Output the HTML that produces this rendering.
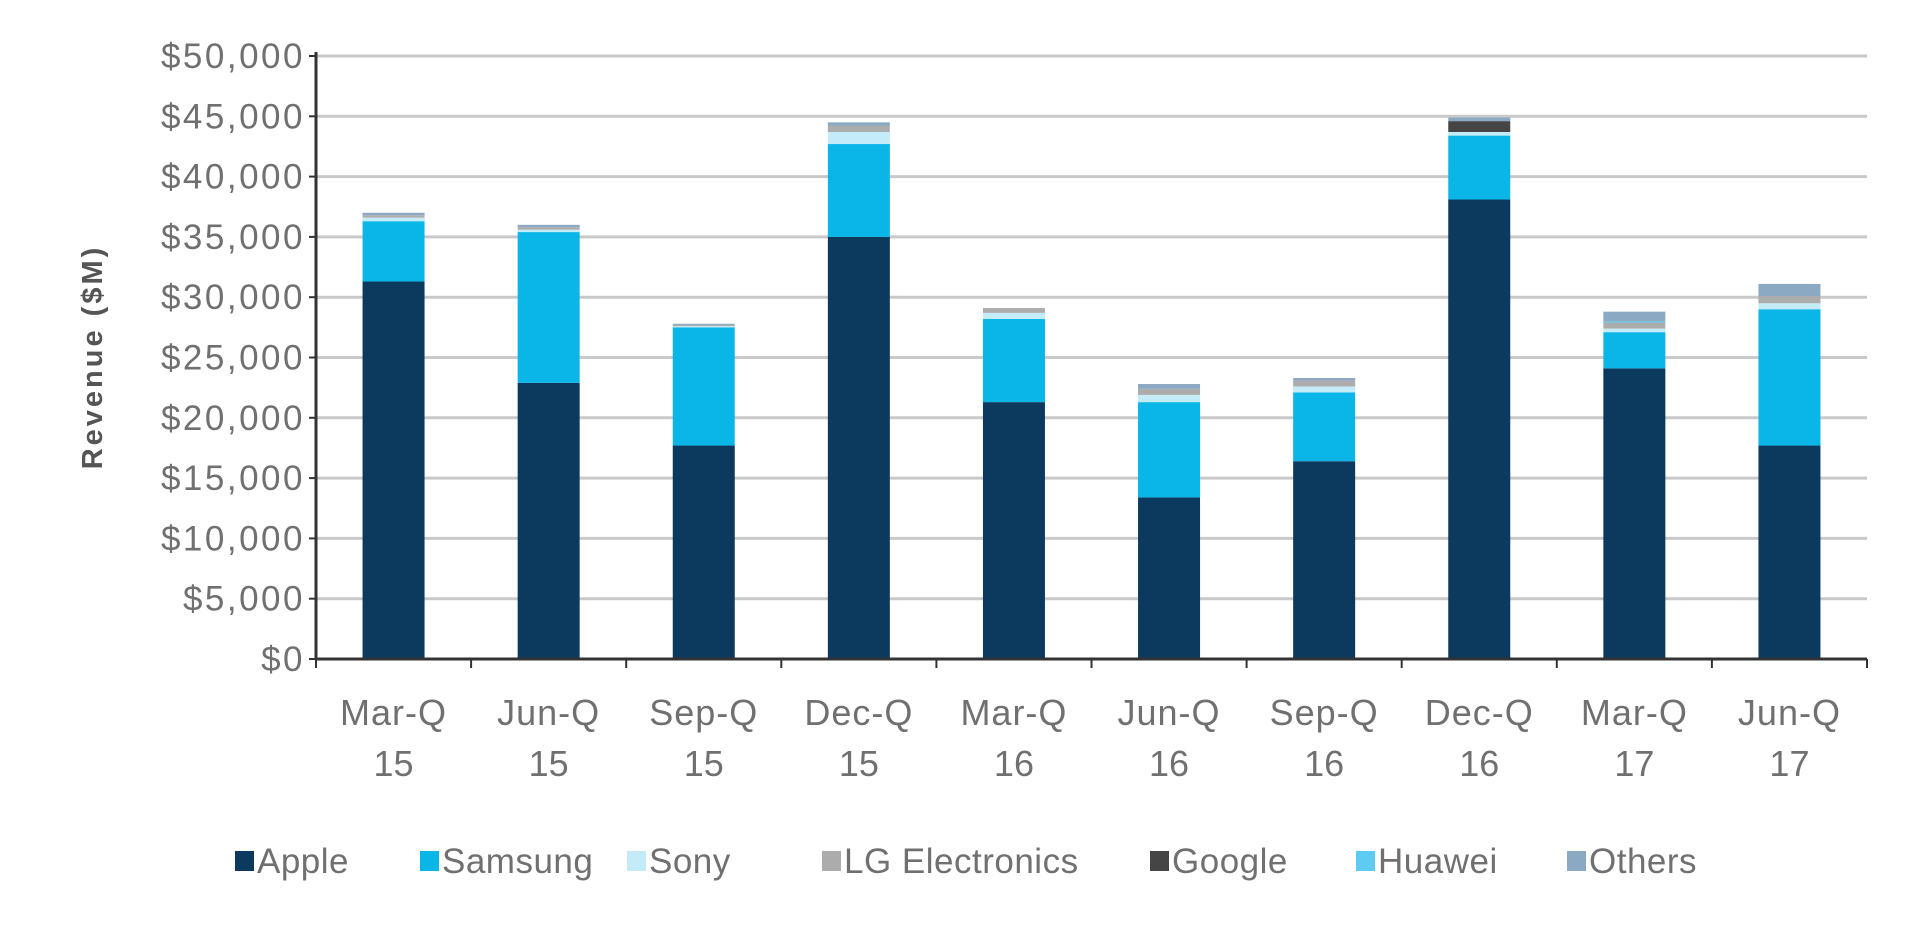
<!DOCTYPE html>
<html><head><meta charset="utf-8">
<style>
html,body{margin:0;padding:0;background:#fff;}
svg text{font-family:"Liberation Sans",sans-serif;}
</style></head>
<body>
<svg id="chart" width="1920" height="934" viewBox="0 0 1920 934" xmlns="http://www.w3.org/2000/svg">
<g id="grid"></g>
<g id="bars"></g>
<g id="axes"></g>
<g id="legend"></g>
<text x="0" y="0" transform="translate(102,357) rotate(-90)" text-anchor="middle" font-size="29" font-weight="bold" fill="#555" letter-spacing="3">Revenue ($M)</text>
</svg>
<script>
const categoriesLine1 = ["Mar-Q","Jun-Q","Sep-Q","Dec-Q","Mar-Q","Jun-Q","Sep-Q","Dec-Q","Mar-Q","Jun-Q"];
const categoriesLine2 = ["15","15","15","15","16","16","16","16","17","17"];
const seriesNames = ["Apple","Samsung","Sony","LG Electronics","Google","Huawei","Others"];
const apple   = [31300,22900,17700,35000,21300,13400,16400,38100,24100,17700];
const samsung = [5000,12500,9800,7700,6900,7900,5700,5300,3000,11300];
const sony    = [300,200,100,1000,500,600,500,300,300,500];
const lg      = [200,200,100,500,400,500,500,0,500,600];
const google  = [0,0,0,0,0,0,0,900,0,0];
const huawei  = [0,0,0,0,0,0,0,0,100,0];
const others  = [200,200,100,300,0,400,200,300,800,1000];
const yTicks = [0,5000,10000,15000,20000,25000,30000,35000,40000,45000,50000];
const yTickLabels = ["$0","$5,000","$10,000","$15,000","$20,000","$25,000","$30,000","$35,000","$40,000","$45,000","$50,000"];

const NS="http://www.w3.org/2000/svg";
const colors=["#0b3a5e","#0ab5e8","#c4ebf8","#acacac","#454545","#5ecbf2","#8ba9c2"];
const series=[apple,samsung,sony,lg,google,huawei,others];
const X0=316,X1=1867,Y0=659,YT=56,YMAX=50000;
const bandW=(X1-X0)/categoriesLine1.length, barW=62;
const y=v=>Y0-(v/YMAX)*(Y0-YT);
const xc=i=>X0+bandW*(i+0.5);
function mk(tag,attrs,parent){const e=document.createElementNS(NS,tag);for(const k in attrs)e.setAttribute(k,attrs[k]);parent.appendChild(e);return e;}
const grid=document.getElementById('grid'),bars=document.getElementById('bars'),axes=document.getElementById('axes'),legend=document.getElementById('legend');
yTicks.forEach((t,i)=>{
  if(t>0){const l=mk('line',{x1:X0,x2:X1,y1:y(t),y2:y(t),stroke:'#c9c9c9','stroke-width':3},grid);
  
  }
  const tk=mk('line',{x1:X0-7,x2:X0,y1:y(t),y2:y(t),stroke:'#333','stroke-width':2},axes);
  
  
  const tx=mk('text',{x:305,y:y(t)+12,'text-anchor':'end','font-size':35,fill:'#707070','letter-spacing':'2.5'},axes);
  tx.textContent=yTickLabels[i];
  
  
});
categoriesLine1.forEach((c,i)=>{
  let base=0;
  series.forEach((s,k)=>{
    const v=s[i]; if(!v){return;}
    const r=mk('rect',{x:xc(i)-barW/2,y:y(base+v),width:barW,height:y(base)-y(base+v),fill:colors[k]},bars);
    
    
    base+=v;
  });
  const t1=mk('text',{x:xc(i),y:725,'text-anchor':'middle','font-size':36,fill:'#707070','letter-spacing':'1'},axes);
  t1.textContent=c;
  
  
  const t2=mk('text',{x:xc(i),y:776,'text-anchor':'middle','font-size':36,fill:'#707070'},axes);
  t2.textContent=categoriesLine2[i];
  
  
});
for(let i=0;i<=categoriesLine1.length;i++){
  const tk=mk('line',{x1:X0+bandW*i,x2:X0+bandW*i,y1:Y0,y2:Y0+9,stroke:'#333','stroke-width':2},axes);
  
  
}
const ya=mk('line',{x1:X0,x2:X0,y1:YT-4,y2:Y0,stroke:'#333','stroke-width':3},axes);


const xa=mk('line',{x1:X0,x2:X1,y1:Y0,y2:Y0,stroke:'#333','stroke-width':3},axes);


const legX=[235,420,627,822,1150,1356,1567];
seriesNames.forEach((n,k)=>{
  const g=mk('g',{},legend);
  
  
  mk('rect',{x:legX[k],y:851,width:19,height:20,fill:colors[k]},g);
  const t=mk('text',{x:legX[k]+22,y:873,'font-size':35,fill:'#707070','letter-spacing':'0.5'},g);
  t.textContent=n;
});
</script>
</body></html>
